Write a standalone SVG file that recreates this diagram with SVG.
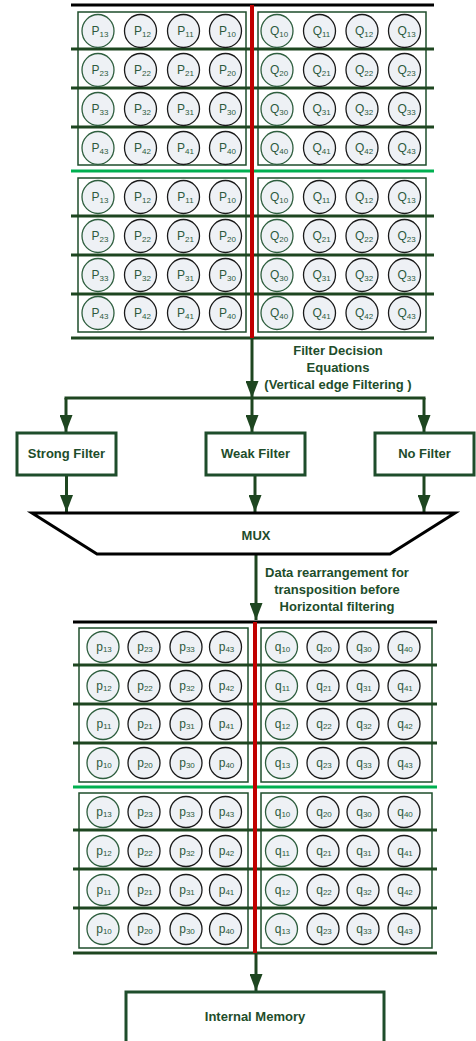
<svg xmlns="http://www.w3.org/2000/svg" xmlns:xlink="http://www.w3.org/1999/xlink" width="476" height="1041" viewBox="0 0 476 1041">
<style>
.c0{fill:#eef1f5;stroke:#2f5f3f;stroke-width:1.3}
.c1{fill:#eef1f5;stroke:#1a1a1a;stroke-width:1.3}
.t{font-family:"Liberation Sans",Arial,sans-serif;font-size:12px;fill:#2d5a3d;text-anchor:middle}
.s{font-size:8px}
.box{fill:none;stroke:#1e4d2b;stroke-width:1.5}
.hl{stroke:#1e4620;stroke-width:3}
.gl{stroke:#00b050;stroke-width:3}
.bl{stroke:#000;stroke-width:3}
.red{stroke:#c00000;stroke-width:4}
.conn{stroke:#1e4620;stroke-width:3;fill:none}
.arr{marker-end:url(#ah)}
.fb{fill:#fff;stroke:#1e4d2b;stroke-width:3}
.lbl{font-family:"Liberation Sans",Arial,sans-serif;font-weight:bold;font-size:13px;fill:#1e4d2b;text-anchor:middle}
</style>
<defs>
<marker id="ah" markerUnits="userSpaceOnUse" markerWidth="17" markerHeight="13" refX="17" refY="6.5" orient="auto" viewBox="0 0 17 13"><path d="M0,0 L17,6.5 L0,13 z" fill="#1e4620"/></marker>
<ellipse id="eg" class="c0" rx="16" ry="16.5"/>
<ellipse id="eb" class="c1" rx="16" ry="16.5"/>
<ellipse id="fg" class="c0" rx="16" ry="15.5"/>
<ellipse id="fb" class="c1" rx="16" ry="15.5"/>
</defs>
<rect width="476" height="1041" fill="#fff"/>

<!-- top grids frames -->
<g id="gridA">
<rect class="box" x="78" y="12" width="168" height="153"/>
<rect class="box" x="258" y="12" width="168" height="153"/>
<rect class="box" x="78" y="178" width="168" height="154"/>
<rect class="box" x="258" y="178" width="168" height="154"/>
<line class="bl" x1="71" y1="5" x2="434" y2="5"/>
<line class="hl" x1="71" y1="49" x2="434" y2="49"/>
<line class="hl" x1="71" y1="88" x2="434" y2="88"/>
<line class="hl" x1="71" y1="127" x2="434" y2="127"/>
<line class="gl" x1="71" y1="171" x2="434" y2="171"/>
<line class="hl" x1="71" y1="216" x2="434" y2="216"/>
<line class="hl" x1="71" y1="255" x2="434" y2="255"/>
<line class="hl" x1="71" y1="294" x2="434" y2="294"/>
<line class="hl" x1="71" y1="338" x2="434" y2="338"/>
<line class="red" x1="252" y1="5" x2="252" y2="338"/>
</g>

<g id="cellsA1">
<g id="a1p13" transform="translate(98,31)"><use href="#eg"/><text class="t" x="2" y="4">P<tspan class="s" dy="1.5">13</tspan></text></g>
<g id="a1p12" transform="translate(140.5,31)"><use href="#eb"/><text class="t" x="2" y="4">P<tspan class="s" dy="1.5">12</tspan></text></g>
<g id="a1p11" transform="translate(183.5,31)"><use href="#eb"/><text class="t" x="2" y="4">P<tspan class="s" dy="1.5">11</tspan></text></g>
<g id="a1p10" transform="translate(225.5,31)"><use href="#eb"/><text class="t" x="2" y="4">P<tspan class="s" dy="1.5">10</tspan></text></g>
<g id="a1p23" transform="translate(98,70)"><use href="#eg"/><text class="t" x="2" y="4">P<tspan class="s" dy="1.5">23</tspan></text></g>
<g id="a1p22" transform="translate(140.5,70)"><use href="#eb"/><text class="t" x="2" y="4">P<tspan class="s" dy="1.5">22</tspan></text></g>
<g id="a1p21" transform="translate(183.5,70)"><use href="#eb"/><text class="t" x="2" y="4">P<tspan class="s" dy="1.5">21</tspan></text></g>
<g id="a1p20" transform="translate(225.5,70)"><use href="#eb"/><text class="t" x="2" y="4">P<tspan class="s" dy="1.5">20</tspan></text></g>
<g id="a1p33" transform="translate(98,109)"><use href="#eg"/><text class="t" x="2" y="4">P<tspan class="s" dy="1.5">33</tspan></text></g>
<g id="a1p32" transform="translate(140.5,109)"><use href="#eb"/><text class="t" x="2" y="4">P<tspan class="s" dy="1.5">32</tspan></text></g>
<g id="a1p31" transform="translate(183.5,109)"><use href="#eb"/><text class="t" x="2" y="4">P<tspan class="s" dy="1.5">31</tspan></text></g>
<g id="a1p30" transform="translate(225.5,109)"><use href="#eb"/><text class="t" x="2" y="4">P<tspan class="s" dy="1.5">30</tspan></text></g>
<g id="a1p43" transform="translate(98,148)"><use href="#eg"/><text class="t" x="2" y="4">P<tspan class="s" dy="1.5">43</tspan></text></g>
<g id="a1p42" transform="translate(140.5,148)"><use href="#eb"/><text class="t" x="2" y="4">P<tspan class="s" dy="1.5">42</tspan></text></g>
<g id="a1p41" transform="translate(183.5,148)"><use href="#eb"/><text class="t" x="2" y="4">P<tspan class="s" dy="1.5">41</tspan></text></g>
<g id="a1p40" transform="translate(225.5,148)"><use href="#eb"/><text class="t" x="2" y="4">P<tspan class="s" dy="1.5">40</tspan></text></g>
<g id="a1q10" transform="translate(277,31)"><use href="#eg"/><text class="t" x="2" y="4">Q<tspan class="s" dy="1.5">10</tspan></text></g>
<g id="a1q11" transform="translate(319.5,31)"><use href="#eb"/><text class="t" x="2" y="4">Q<tspan class="s" dy="1.5">11</tspan></text></g>
<g id="a1q12" transform="translate(362,31)"><use href="#eb"/><text class="t" x="2" y="4">Q<tspan class="s" dy="1.5">12</tspan></text></g>
<g id="a1q13" transform="translate(404.5,31)"><use href="#eb"/><text class="t" x="2" y="4">Q<tspan class="s" dy="1.5">13</tspan></text></g>
<g id="a1q20" transform="translate(277,70)"><use href="#eg"/><text class="t" x="2" y="4">Q<tspan class="s" dy="1.5">20</tspan></text></g>
<g id="a1q21" transform="translate(319.5,70)"><use href="#eb"/><text class="t" x="2" y="4">Q<tspan class="s" dy="1.5">21</tspan></text></g>
<g id="a1q22" transform="translate(362,70)"><use href="#eb"/><text class="t" x="2" y="4">Q<tspan class="s" dy="1.5">22</tspan></text></g>
<g id="a1q23" transform="translate(404.5,70)"><use href="#eb"/><text class="t" x="2" y="4">Q<tspan class="s" dy="1.5">23</tspan></text></g>
<g id="a1q30" transform="translate(277,109)"><use href="#eg"/><text class="t" x="2" y="4">Q<tspan class="s" dy="1.5">30</tspan></text></g>
<g id="a1q31" transform="translate(319.5,109)"><use href="#eb"/><text class="t" x="2" y="4">Q<tspan class="s" dy="1.5">31</tspan></text></g>
<g id="a1q32" transform="translate(362,109)"><use href="#eb"/><text class="t" x="2" y="4">Q<tspan class="s" dy="1.5">32</tspan></text></g>
<g id="a1q33" transform="translate(404.5,109)"><use href="#eb"/><text class="t" x="2" y="4">Q<tspan class="s" dy="1.5">33</tspan></text></g>
<g id="a1q40" transform="translate(277,148)"><use href="#eg"/><text class="t" x="2" y="4">Q<tspan class="s" dy="1.5">40</tspan></text></g>
<g id="a1q41" transform="translate(319.5,148)"><use href="#eb"/><text class="t" x="2" y="4">Q<tspan class="s" dy="1.5">41</tspan></text></g>
<g id="a1q42" transform="translate(362,148)"><use href="#eb"/><text class="t" x="2" y="4">Q<tspan class="s" dy="1.5">42</tspan></text></g>
<g id="a1q43" transform="translate(404.5,148)"><use href="#eb"/><text class="t" x="2" y="4">Q<tspan class="s" dy="1.5">43</tspan></text></g>
</g>

<g id="cellsA2">
<g id="a2p13" transform="translate(98,197)"><use href="#eg"/><text class="t" x="2" y="4">P<tspan class="s" dy="1.5">13</tspan></text></g>
<g id="a2p12" transform="translate(140.5,197)"><use href="#eb"/><text class="t" x="2" y="4">P<tspan class="s" dy="1.5">12</tspan></text></g>
<g id="a2p11" transform="translate(183.5,197)"><use href="#eb"/><text class="t" x="2" y="4">P<tspan class="s" dy="1.5">11</tspan></text></g>
<g id="a2p10" transform="translate(225.5,197)"><use href="#eb"/><text class="t" x="2" y="4">P<tspan class="s" dy="1.5">10</tspan></text></g>
<g id="a2p23" transform="translate(98,236)"><use href="#eg"/><text class="t" x="2" y="4">P<tspan class="s" dy="1.5">23</tspan></text></g>
<g id="a2p22" transform="translate(140.5,236)"><use href="#eb"/><text class="t" x="2" y="4">P<tspan class="s" dy="1.5">22</tspan></text></g>
<g id="a2p21" transform="translate(183.5,236)"><use href="#eb"/><text class="t" x="2" y="4">P<tspan class="s" dy="1.5">21</tspan></text></g>
<g id="a2p20" transform="translate(225.5,236)"><use href="#eb"/><text class="t" x="2" y="4">P<tspan class="s" dy="1.5">20</tspan></text></g>
<g id="a2p33" transform="translate(98,275)"><use href="#eg"/><text class="t" x="2" y="4">P<tspan class="s" dy="1.5">33</tspan></text></g>
<g id="a2p32" transform="translate(140.5,275)"><use href="#eb"/><text class="t" x="2" y="4">P<tspan class="s" dy="1.5">32</tspan></text></g>
<g id="a2p31" transform="translate(183.5,275)"><use href="#eb"/><text class="t" x="2" y="4">P<tspan class="s" dy="1.5">31</tspan></text></g>
<g id="a2p30" transform="translate(225.5,275)"><use href="#eb"/><text class="t" x="2" y="4">P<tspan class="s" dy="1.5">30</tspan></text></g>
<g id="a2p43" transform="translate(98,313)"><use href="#eg"/><text class="t" x="2" y="4">P<tspan class="s" dy="1.5">43</tspan></text></g>
<g id="a2p42" transform="translate(140.5,313)"><use href="#eb"/><text class="t" x="2" y="4">P<tspan class="s" dy="1.5">42</tspan></text></g>
<g id="a2p41" transform="translate(183.5,313)"><use href="#eb"/><text class="t" x="2" y="4">P<tspan class="s" dy="1.5">41</tspan></text></g>
<g id="a2p40" transform="translate(225.5,313)"><use href="#eb"/><text class="t" x="2" y="4">P<tspan class="s" dy="1.5">40</tspan></text></g>
<g id="a2q10" transform="translate(277,197)"><use href="#eg"/><text class="t" x="2" y="4">Q<tspan class="s" dy="1.5">10</tspan></text></g>
<g id="a2q11" transform="translate(319.5,197)"><use href="#eb"/><text class="t" x="2" y="4">Q<tspan class="s" dy="1.5">11</tspan></text></g>
<g id="a2q12" transform="translate(362,197)"><use href="#eb"/><text class="t" x="2" y="4">Q<tspan class="s" dy="1.5">12</tspan></text></g>
<g id="a2q13" transform="translate(404.5,197)"><use href="#eb"/><text class="t" x="2" y="4">Q<tspan class="s" dy="1.5">13</tspan></text></g>
<g id="a2q20" transform="translate(277,236)"><use href="#eg"/><text class="t" x="2" y="4">Q<tspan class="s" dy="1.5">20</tspan></text></g>
<g id="a2q21" transform="translate(319.5,236)"><use href="#eb"/><text class="t" x="2" y="4">Q<tspan class="s" dy="1.5">21</tspan></text></g>
<g id="a2q22" transform="translate(362,236)"><use href="#eb"/><text class="t" x="2" y="4">Q<tspan class="s" dy="1.5">22</tspan></text></g>
<g id="a2q23" transform="translate(404.5,236)"><use href="#eb"/><text class="t" x="2" y="4">Q<tspan class="s" dy="1.5">23</tspan></text></g>
<g id="a2q30" transform="translate(277,275)"><use href="#eg"/><text class="t" x="2" y="4">Q<tspan class="s" dy="1.5">30</tspan></text></g>
<g id="a2q31" transform="translate(319.5,275)"><use href="#eb"/><text class="t" x="2" y="4">Q<tspan class="s" dy="1.5">31</tspan></text></g>
<g id="a2q32" transform="translate(362,275)"><use href="#eb"/><text class="t" x="2" y="4">Q<tspan class="s" dy="1.5">32</tspan></text></g>
<g id="a2q33" transform="translate(404.5,275)"><use href="#eb"/><text class="t" x="2" y="4">Q<tspan class="s" dy="1.5">33</tspan></text></g>
<g id="a2q40" transform="translate(277,313)"><use href="#eg"/><text class="t" x="2" y="4">Q<tspan class="s" dy="1.5">40</tspan></text></g>
<g id="a2q41" transform="translate(319.5,313)"><use href="#eb"/><text class="t" x="2" y="4">Q<tspan class="s" dy="1.5">41</tspan></text></g>
<g id="a2q42" transform="translate(362,313)"><use href="#eb"/><text class="t" x="2" y="4">Q<tspan class="s" dy="1.5">42</tspan></text></g>
<g id="a2q43" transform="translate(404.5,313)"><use href="#eb"/><text class="t" x="2" y="4">Q<tspan class="s" dy="1.5">43</tspan></text></g>
</g>

<!-- connectors -->
<g id="connectors">
<line class="conn arr" x1="252" y1="338" x2="252" y2="398"/>
<line class="conn" x1="64.5" y1="398" x2="425.5" y2="398"/>
<line class="conn arr" x1="66" y1="398" x2="66" y2="432"/>
<line class="conn arr" x1="252" y1="398" x2="252" y2="432"/>
<line class="conn arr" x1="424" y1="398" x2="424" y2="432"/>
<line class="conn arr" x1="66.5" y1="475" x2="66.5" y2="512"/>
<line class="conn arr" x1="255" y1="475" x2="255" y2="512"/>
<line class="conn arr" x1="424" y1="475" x2="424" y2="512"/>
<line class="conn arr" x1="256" y1="555" x2="256" y2="620"/>
<line class="conn arr" x1="256" y1="953" x2="256" y2="991"/>
</g>

<g id="lbl-decision">
<text class="lbl" x="338" y="355">Filter Decision</text>
<text class="lbl" x="338" y="372">Equations</text>
<text class="lbl" x="338" y="389">(Vertical edge Filtering )</text>
</g>

<g id="strong"><rect class="fb" x="17" y="433" width="99" height="42"/><text class="lbl" x="66.5" y="458">Strong Filter</text></g>
<g id="weak"><rect class="fb" x="206" y="433" width="99" height="42"/><text class="lbl" x="255.5" y="458">Weak Filter</text></g>
<g id="nofilter"><rect class="fb" x="375" y="433" width="99" height="42"/><text class="lbl" x="424.5" y="458">No Filter</text></g>

<g id="mux"><polygon points="32,513 455,513 390,554 97,554" fill="#fff" stroke="#000" stroke-width="3"/><text class="lbl" x="256" y="540">MUX</text></g>

<g id="lbl-rearr">
<text class="lbl" x="337" y="577">Data rearrangement for</text>
<text class="lbl" x="337" y="594">transposition before</text>
<text class="lbl" x="337" y="611">Horizontal filtering</text>
</g>

<g id="gridB">
<rect class="box" x="79" y="628" width="169" height="154"/>
<rect class="box" x="261" y="628" width="171" height="154"/>
<rect class="box" x="79" y="793" width="169" height="155"/>
<rect class="box" x="261" y="793" width="171" height="155"/>
<line class="bl" x1="73" y1="622" x2="437" y2="622"/>
<line class="hl" x1="73" y1="665" x2="437" y2="665"/>
<line class="hl" x1="73" y1="704" x2="437" y2="704"/>
<line class="hl" x1="73" y1="743" x2="437" y2="743"/>
<line class="gl" x1="73" y1="787" x2="437" y2="787"/>
<line class="hl" x1="73" y1="830" x2="437" y2="830"/>
<line class="hl" x1="73" y1="869" x2="437" y2="869"/>
<line class="hl" x1="73" y1="908" x2="437" y2="908"/>
<line class="hl" x1="73" y1="953" x2="437" y2="953"/>
<line class="red" x1="255" y1="622" x2="255" y2="953"/>
</g>

<g id="cellsB1">
<g id="b1p13" transform="translate(103,647)"><use href="#fg"/><text class="t" x="1" y="4">p<tspan class="s" dy="1">13</tspan></text></g>
<g id="b1p23" transform="translate(144,647)"><use href="#fb"/><text class="t" x="1" y="4">p<tspan class="s" dy="1">23</tspan></text></g>
<g id="b1p33" transform="translate(186,647)"><use href="#fb"/><text class="t" x="1" y="4">p<tspan class="s" dy="1">33</tspan></text></g>
<g id="b1p43" transform="translate(225.5,647)"><use href="#fb"/><text class="t" x="1" y="4">p<tspan class="s" dy="1">43</tspan></text></g>
<g id="b1p12" transform="translate(103,686)"><use href="#fg"/><text class="t" x="1" y="4">p<tspan class="s" dy="1">12</tspan></text></g>
<g id="b1p22" transform="translate(144,686)"><use href="#fb"/><text class="t" x="1" y="4">p<tspan class="s" dy="1">22</tspan></text></g>
<g id="b1p32" transform="translate(186,686)"><use href="#fb"/><text class="t" x="1" y="4">p<tspan class="s" dy="1">32</tspan></text></g>
<g id="b1p42" transform="translate(225.5,686)"><use href="#fb"/><text class="t" x="1" y="4">p<tspan class="s" dy="1">42</tspan></text></g>
<g id="b1p11" transform="translate(103,724)"><use href="#fg"/><text class="t" x="1" y="4">p<tspan class="s" dy="1">11</tspan></text></g>
<g id="b1p21" transform="translate(144,724)"><use href="#fb"/><text class="t" x="1" y="4">p<tspan class="s" dy="1">21</tspan></text></g>
<g id="b1p31" transform="translate(186,724)"><use href="#fb"/><text class="t" x="1" y="4">p<tspan class="s" dy="1">31</tspan></text></g>
<g id="b1p41" transform="translate(225.5,724)"><use href="#fb"/><text class="t" x="1" y="4">p<tspan class="s" dy="1">41</tspan></text></g>
<g id="b1p10" transform="translate(103,763)"><use href="#fg"/><text class="t" x="1" y="4">p<tspan class="s" dy="1">10</tspan></text></g>
<g id="b1p20" transform="translate(144,763)"><use href="#fb"/><text class="t" x="1" y="4">p<tspan class="s" dy="1">20</tspan></text></g>
<g id="b1p30" transform="translate(186,763)"><use href="#fb"/><text class="t" x="1" y="4">p<tspan class="s" dy="1">30</tspan></text></g>
<g id="b1p40" transform="translate(225.5,763)"><use href="#fb"/><text class="t" x="1" y="4">p<tspan class="s" dy="1">40</tspan></text></g>
<g id="b1q10" transform="translate(281.5,647)"><use href="#fg"/><text class="t" x="1" y="4">q<tspan class="s" dy="1">10</tspan></text></g>
<g id="b1q20" transform="translate(323,647)"><use href="#fb"/><text class="t" x="1" y="4">q<tspan class="s" dy="1">20</tspan></text></g>
<g id="b1q30" transform="translate(363,647)"><use href="#fb"/><text class="t" x="1" y="4">q<tspan class="s" dy="1">30</tspan></text></g>
<g id="b1q40" transform="translate(404,647)"><use href="#fb"/><text class="t" x="1" y="4">q<tspan class="s" dy="1">40</tspan></text></g>
<g id="b1q11" transform="translate(281.5,686)"><use href="#fg"/><text class="t" x="1" y="4">q<tspan class="s" dy="1">11</tspan></text></g>
<g id="b1q21" transform="translate(323,686)"><use href="#fb"/><text class="t" x="1" y="4">q<tspan class="s" dy="1">21</tspan></text></g>
<g id="b1q31" transform="translate(363,686)"><use href="#fb"/><text class="t" x="1" y="4">q<tspan class="s" dy="1">31</tspan></text></g>
<g id="b1q41" transform="translate(404,686)"><use href="#fb"/><text class="t" x="1" y="4">q<tspan class="s" dy="1">41</tspan></text></g>
<g id="b1q12" transform="translate(281.5,724)"><use href="#fg"/><text class="t" x="1" y="4">q<tspan class="s" dy="1">12</tspan></text></g>
<g id="b1q22" transform="translate(323,724)"><use href="#fb"/><text class="t" x="1" y="4">q<tspan class="s" dy="1">22</tspan></text></g>
<g id="b1q32" transform="translate(363,724)"><use href="#fb"/><text class="t" x="1" y="4">q<tspan class="s" dy="1">32</tspan></text></g>
<g id="b1q42" transform="translate(404,724)"><use href="#fb"/><text class="t" x="1" y="4">q<tspan class="s" dy="1">42</tspan></text></g>
<g id="b1q13" transform="translate(281.5,763)"><use href="#fg"/><text class="t" x="1" y="4">q<tspan class="s" dy="1">13</tspan></text></g>
<g id="b1q23" transform="translate(323,763)"><use href="#fb"/><text class="t" x="1" y="4">q<tspan class="s" dy="1">23</tspan></text></g>
<g id="b1q33" transform="translate(363,763)"><use href="#fb"/><text class="t" x="1" y="4">q<tspan class="s" dy="1">33</tspan></text></g>
<g id="b1q43" transform="translate(404,763)"><use href="#fb"/><text class="t" x="1" y="4">q<tspan class="s" dy="1">43</tspan></text></g>
</g>

<g id="cellsB2">
<g id="b2p13" transform="translate(103,812)"><use href="#fg"/><text class="t" x="1" y="4">p<tspan class="s" dy="1">13</tspan></text></g>
<g id="b2p23" transform="translate(144,812)"><use href="#fb"/><text class="t" x="1" y="4">p<tspan class="s" dy="1">23</tspan></text></g>
<g id="b2p33" transform="translate(186,812)"><use href="#fb"/><text class="t" x="1" y="4">p<tspan class="s" dy="1">33</tspan></text></g>
<g id="b2p43" transform="translate(225.5,812)"><use href="#fb"/><text class="t" x="1" y="4">p<tspan class="s" dy="1">43</tspan></text></g>
<g id="b2p12" transform="translate(103,851)"><use href="#fg"/><text class="t" x="1" y="4">p<tspan class="s" dy="1">12</tspan></text></g>
<g id="b2p22" transform="translate(144,851)"><use href="#fb"/><text class="t" x="1" y="4">p<tspan class="s" dy="1">22</tspan></text></g>
<g id="b2p32" transform="translate(186,851)"><use href="#fb"/><text class="t" x="1" y="4">p<tspan class="s" dy="1">32</tspan></text></g>
<g id="b2p42" transform="translate(225.5,851)"><use href="#fb"/><text class="t" x="1" y="4">p<tspan class="s" dy="1">42</tspan></text></g>
<g id="b2p11" transform="translate(103,890)"><use href="#fg"/><text class="t" x="1" y="4">p<tspan class="s" dy="1">11</tspan></text></g>
<g id="b2p21" transform="translate(144,890)"><use href="#fb"/><text class="t" x="1" y="4">p<tspan class="s" dy="1">21</tspan></text></g>
<g id="b2p31" transform="translate(186,890)"><use href="#fb"/><text class="t" x="1" y="4">p<tspan class="s" dy="1">31</tspan></text></g>
<g id="b2p41" transform="translate(225.5,890)"><use href="#fb"/><text class="t" x="1" y="4">p<tspan class="s" dy="1">41</tspan></text></g>
<g id="b2p10" transform="translate(103,929)"><use href="#fg"/><text class="t" x="1" y="4">p<tspan class="s" dy="1">10</tspan></text></g>
<g id="b2p20" transform="translate(144,929)"><use href="#fb"/><text class="t" x="1" y="4">p<tspan class="s" dy="1">20</tspan></text></g>
<g id="b2p30" transform="translate(186,929)"><use href="#fb"/><text class="t" x="1" y="4">p<tspan class="s" dy="1">30</tspan></text></g>
<g id="b2p40" transform="translate(225.5,929)"><use href="#fb"/><text class="t" x="1" y="4">p<tspan class="s" dy="1">40</tspan></text></g>
<g id="b2q10" transform="translate(281.5,812)"><use href="#fg"/><text class="t" x="1" y="4">q<tspan class="s" dy="1">10</tspan></text></g>
<g id="b2q20" transform="translate(323,812)"><use href="#fb"/><text class="t" x="1" y="4">q<tspan class="s" dy="1">20</tspan></text></g>
<g id="b2q30" transform="translate(363,812)"><use href="#fb"/><text class="t" x="1" y="4">q<tspan class="s" dy="1">30</tspan></text></g>
<g id="b2q40" transform="translate(404,812)"><use href="#fb"/><text class="t" x="1" y="4">q<tspan class="s" dy="1">40</tspan></text></g>
<g id="b2q11" transform="translate(281.5,851)"><use href="#fg"/><text class="t" x="1" y="4">q<tspan class="s" dy="1">11</tspan></text></g>
<g id="b2q21" transform="translate(323,851)"><use href="#fb"/><text class="t" x="1" y="4">q<tspan class="s" dy="1">21</tspan></text></g>
<g id="b2q31" transform="translate(363,851)"><use href="#fb"/><text class="t" x="1" y="4">q<tspan class="s" dy="1">31</tspan></text></g>
<g id="b2q41" transform="translate(404,851)"><use href="#fb"/><text class="t" x="1" y="4">q<tspan class="s" dy="1">41</tspan></text></g>
<g id="b2q12" transform="translate(281.5,890)"><use href="#fg"/><text class="t" x="1" y="4">q<tspan class="s" dy="1">12</tspan></text></g>
<g id="b2q22" transform="translate(323,890)"><use href="#fb"/><text class="t" x="1" y="4">q<tspan class="s" dy="1">22</tspan></text></g>
<g id="b2q32" transform="translate(363,890)"><use href="#fb"/><text class="t" x="1" y="4">q<tspan class="s" dy="1">32</tspan></text></g>
<g id="b2q42" transform="translate(404,890)"><use href="#fb"/><text class="t" x="1" y="4">q<tspan class="s" dy="1">42</tspan></text></g>
<g id="b2q13" transform="translate(281.5,929)"><use href="#fg"/><text class="t" x="1" y="4">q<tspan class="s" dy="1">13</tspan></text></g>
<g id="b2q23" transform="translate(323,929)"><use href="#fb"/><text class="t" x="1" y="4">q<tspan class="s" dy="1">23</tspan></text></g>
<g id="b2q33" transform="translate(363,929)"><use href="#fb"/><text class="t" x="1" y="4">q<tspan class="s" dy="1">33</tspan></text></g>
<g id="b2q43" transform="translate(404,929)"><use href="#fb"/><text class="t" x="1" y="4">q<tspan class="s" dy="1">43</tspan></text></g>
</g>

<g id="memory"><rect class="fb" x="126" y="992" width="258" height="60"/><text class="lbl" x="255" y="1021">Internal Memory</text></g>
</svg>
